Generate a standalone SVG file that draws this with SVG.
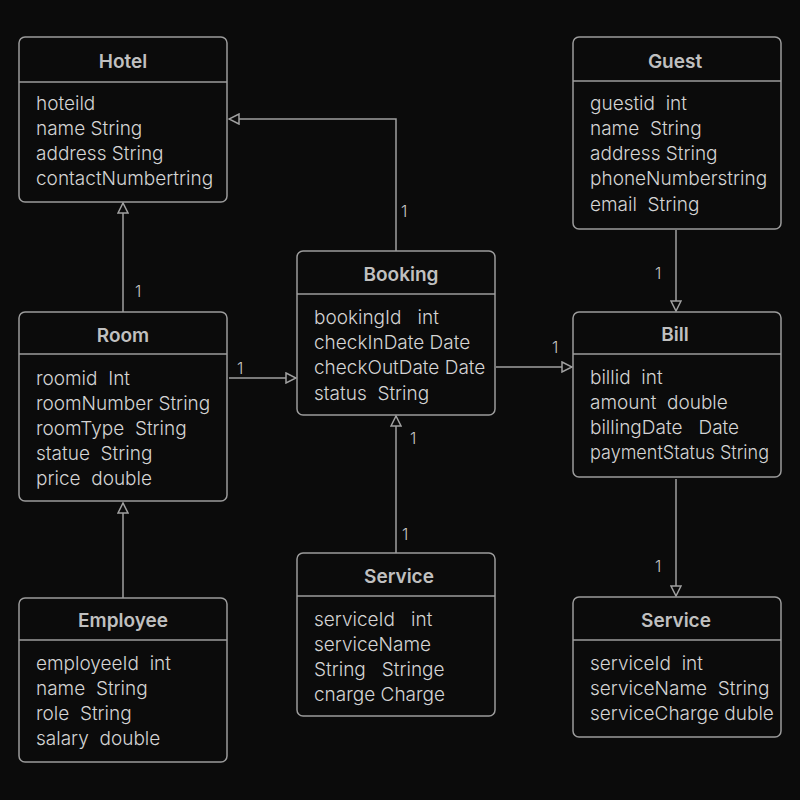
<svg xmlns="http://www.w3.org/2000/svg" width="800" height="800" viewBox="0 0 800 800" xml:space="preserve">
<style>
.box{fill:#0b0b0b;stroke:#9c9c9c;stroke-width:1.5}
.div{stroke:#9c9c9c;stroke-width:1.5}
.title{font-family:Inter,"Liberation Sans",Arial,sans-serif;font-size:19px;font-weight:600;fill:#c0c0c0;text-anchor:middle}
.attr{font-family:Inter,"Liberation Sans",Arial,sans-serif;font-size:19px;font-weight:300;fill:#d4d4d4;white-space:pre}
.edge{fill:none;stroke:#a0a0a0;stroke-width:1.5}
.lbl{font-family:Inter,"Liberation Sans",Arial,sans-serif;font-size:16px;font-weight:300;fill:#c8c8c8}
</style>
<defs>
<marker id="tri" viewBox="0 0 12 12" refX="11" refY="6" markerWidth="12" markerHeight="12" markerUnits="userSpaceOnUse" orient="auto">
<path d="M1,1 L11,6 L1,11 Z" fill="#0b0b0b" stroke="#a0a0a0" stroke-width="1.5"/>
</marker>
</defs>
<rect width="800" height="800" fill="#0b0b0b"/>

<g id="connectors">
<path class="edge" d="M396,251 V119 H229" marker-end="url(#tri)"/>
<path class="edge" d="M123,312 V203" marker-end="url(#tri)"/>
<path class="edge" d="M229,378 H296" marker-end="url(#tri)"/>
<path class="edge" d="M123,598 V503" marker-end="url(#tri)"/>
<path class="edge" d="M496,367 H572" marker-end="url(#tri)"/>
<path class="edge" d="M676,230 V311" marker-end="url(#tri)"/>
<path class="edge" d="M676,479 V596" marker-end="url(#tri)"/>
<path class="edge" d="M396,553 V416" marker-end="url(#tri)"/>
<text class="lbl" x="401" y="217">1</text>
<text class="lbl" x="135" y="297">1</text>
<text class="lbl" x="237" y="374">1</text>
<text class="lbl" x="552" y="353">1</text>
<text class="lbl" x="655" y="279">1</text>
<text class="lbl" x="655" y="572">1</text>
<text class="lbl" x="410" y="444">1</text>
<text class="lbl" x="402" y="540">1</text>
</g>

<g id="hotel">
<rect class="box" x="19" y="37" width="208" height="165" rx="6"/>
<line class="div" x1="19" y1="82" x2="227" y2="82"/>
<text class="title" x="123" y="68">Hotel</text>
<text class="attr" x="36" y="110">hoteild</text>
<text class="attr" x="36" y="135">name String</text>
<text class="attr" x="36" y="160">address String</text>
<text class="attr" x="36" y="185">contactNumbertring</text>
</g>

<g id="room">
<rect class="box" x="19" y="312" width="208" height="189" rx="6"/>
<line class="div" x1="19" y1="354" x2="227" y2="354"/>
<text class="title" x="123" y="342">Room</text>
<text class="attr" x="36" y="385">roomid  Int</text>
<text class="attr" x="36" y="410">roomNumber String</text>
<text class="attr" x="36" y="435">roomType  String</text>
<text class="attr" x="36" y="460">statue  String</text>
<text class="attr" x="36" y="485">price  double</text>
</g>

<g id="employee">
<rect class="box" x="19" y="598" width="208" height="164" rx="6"/>
<line class="div" x1="19" y1="640" x2="227" y2="640"/>
<text class="title" x="123" y="627">Employee</text>
<text class="attr" x="36" y="670">employeeId  int</text>
<text class="attr" x="36" y="695">name  String</text>
<text class="attr" x="36" y="720">role  String</text>
<text class="attr" x="36" y="745">salary  double</text>
</g>

<g id="booking">
<rect class="box" x="297" y="251" width="198" height="164" rx="6"/>
<line class="div" x1="297" y1="294" x2="495" y2="294"/>
<text class="title" x="401" y="281">Booking</text>
<text class="attr" x="314" y="324">bookingId   int</text>
<text class="attr" x="314" y="349">checkInDate Date</text>
<text class="attr" x="314" y="374">checkOutDate Date</text>
<text class="attr" x="314" y="400">status  String</text>
</g>

<g id="service1">
<rect class="box" x="297" y="553" width="198" height="163" rx="6"/>
<line class="div" x1="297" y1="596" x2="495" y2="596"/>
<text class="title" x="399" y="583">Service</text>
<text class="attr" x="314" y="626">serviceId   int</text>
<text class="attr" x="314" y="651">serviceName</text>
<text class="attr" x="314" y="676">String   Stringe</text>
<text class="attr" x="314" y="701">cnarge Charge</text>
</g>

<g id="guest">
<rect class="box" x="573" y="37" width="208" height="192" rx="6"/>
<line class="div" x1="573" y1="81" x2="781" y2="81"/>
<text class="title" x="675" y="68">Guest</text>
<text class="attr" x="590" y="110">guestid  int</text>
<text class="attr" x="590" y="135">name  String</text>
<text class="attr" x="590" y="160">address String</text>
<text class="attr" x="590" y="185">phoneNumberstring</text>
<text class="attr" x="590" y="211">email  String</text>
</g>

<g id="bill">
<rect class="box" x="573" y="312" width="208" height="165" rx="6"/>
<line class="div" x1="573" y1="354" x2="781" y2="354"/>
<text class="title" x="675" y="341">Bill</text>
<text class="attr" x="590" y="384">billid  int</text>
<text class="attr" x="590" y="409">amount  double</text>
<text class="attr" x="590" y="434">billingDate   Date</text>
<text class="attr" x="590" y="459" textLength="179" lengthAdjust="spacingAndGlyphs">paymentStatus String</text>
</g>

<g id="service2">
<rect class="box" x="573" y="597" width="208" height="140" rx="6"/>
<line class="div" x1="573" y1="640" x2="781" y2="640"/>
<text class="title" x="676" y="627">Service</text>
<text class="attr" x="590" y="670">serviceId  int</text>
<text class="attr" x="590" y="695">serviceName  String</text>
<text class="attr" x="590" y="720">serviceCharge duble</text>
</g>
</svg>
